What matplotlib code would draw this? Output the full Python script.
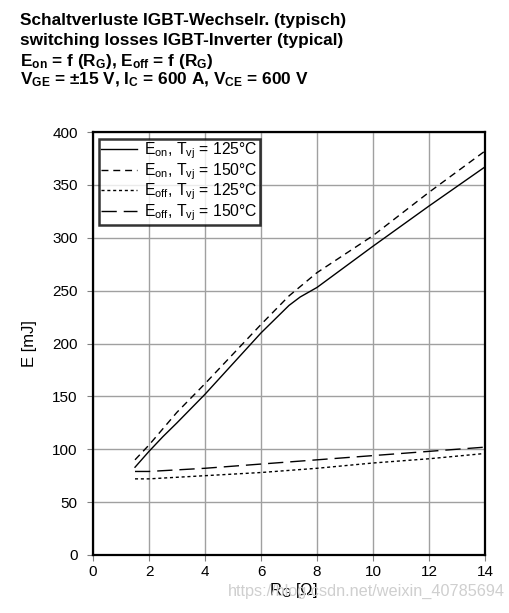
import matplotlib
matplotlib.use("Agg")
import matplotlib.pyplot as plt

plt.rcParams['font.family'] = ['Liberation Sans', 'DejaVu Sans']
plt.rcParams['mathtext.default'] = 'regular'

# Data
rg_eon125 = [1.5, 2, 2.5, 3, 4, 5, 6, 7, 7.4, 8, 10, 12, 14]
eon125 = [83, 98, 112, 125, 152, 181, 210, 236, 244, 253, 292, 330, 367]
rg_eon150 = [1.5, 2, 3, 4, 5, 6, 7, 8, 10, 12, 14]
eon150 = [90, 104, 135, 162, 190, 218, 245, 267, 302, 343, 382]
rg_eoff = [1.5, 2, 4, 6, 8, 10, 12, 14]
eoff125 = [72, 72, 75, 78, 82, 87, 91, 96]
eoff150 = [79, 79, 82, 86, 90, 94, 98, 102]

xticks = [0, 2, 4, 6, 8, 10, 12, 14]
yticks = [0, 50, 100, 150, 200, 250, 300, 350, 400]

title_lines = [
    "Schaltverluste IGBT-Wechselr. (typisch)",
    "switching losses IGBT-Inverter (typical)",
    "E$_{on}$ = f (R$_G$), E$_{off}$ = f (R$_G$)",
    "V$_{GE}$ = \u00b115 V, I$_C$ = 600 A, V$_{CE}$ = 600 V",
]
legend_labels = [
    "E$_{on}$, T$_{vj}$ = 125\u00b0C",
    "E$_{on}$, T$_{vj}$ = 150\u00b0C",
    "E$_{off}$, T$_{vj}$ = 125\u00b0C",
    "E$_{off}$, T$_{vj}$ = 150\u00b0C",
]

W, H = 509, 613
fig = plt.figure(figsize=(W/100, H/100), dpi=100)
ax = fig.add_axes([93/W, 1-555/H, (485-93)/W, (555-132)/H])

lw = 1.0
ax.plot(rg_eon125, eon125, color='black', lw=lw, ls='-', label=legend_labels[0])
ax.plot(rg_eon150, eon150, color='black', lw=lw, ls=(0, (5, 3.5)), label=legend_labels[1])
ax.plot(rg_eoff, eoff125, color='black', lw=lw, ls=(0, (2.2, 2)), label=legend_labels[2])
ax.plot(rg_eoff, eoff150, color='black', lw=lw, ls=(0, (11, 5)), label=legend_labels[3])

ax.set_xlim(0, 14)
ax.set_ylim(0, 400)
ax.set_xticks(xticks)
ax.set_yticks(yticks)
ax.grid(True, color='#a0a0a0', lw=1.0)
ax.set_axisbelow(True)
for s in ax.spines.values():
    s.set_linewidth(1.6)
    s.set_color('black')
ax.tick_params(axis='both', direction='out', length=4, width=0.8, color='#808080',
               labelsize=11)
ax.tick_params(axis='y', pad=7)
ax.tick_params(axis='x', pad=3)

ax.set_xlabel("R$_G$ [\u03a9]", fontsize=12)
ax.set_ylabel("E [mJ]", fontsize=12)
ax.xaxis.set_label_coords((293-93)/392, (555-581)/423)
ax.yaxis.set_label_coords((37-93)/392, 0.5)

leg = ax.legend(loc='upper left', bbox_to_anchor=(0.016, 0.984), borderaxespad=0,
                fontsize=11.3, frameon=True, fancybox=False, handlelength=2.3,
                handletextpad=0.45, labelspacing=0.0, borderpad=0.12)
leg.get_frame().set_edgecolor('black')
leg.get_frame().set_linewidth(1.8)

tops = [13, 32.5, 52, 71]
for t, y in zip(title_lines, tops):
    fig.text(20/W, 1-y/H, t, fontsize=12.4, fontweight='bold', ha='left', va='top')

fig.text(228/W, 1-591/H, "https://blog.csdn.net/weixin_40785694", fontsize=11.7,
         color='#cfcfcf', ha='left', va='center')

fig.savefig("out.png", dpi=100)
